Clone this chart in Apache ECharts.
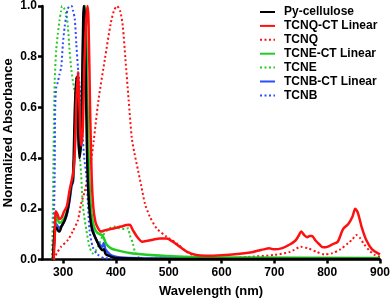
<!DOCTYPE html>
<html>
<head>
<meta charset="utf-8">
<script src="https://cdn.jsdelivr.net/npm/echarts@6/dist/echarts.min.js"></script>
<style>
html,body{margin:0;padding:0;background:#fff;}
#chart{width:392px;height:299px;}
</style>
</head>
<body>
<div id="chart"></div>
<script>
// ---- data (wavelength nm, normalized absorbance) ----
const xTicks = [300, 400, 500, 600, 700, 800, 900];
const yTicks = [0, 0.2, 0.4, 0.6, 0.8, 1.0];

const pyNm = [278, 280, 282, 284, 287, 290, 293, 297, 303, 308, 312, 315, 318, 320, 322, 325, 327, 329, 331, 334, 337, 339, 341, 343, 345, 347, 350, 355, 363, 369, 375, 377, 381, 390, 400, 450, 500, 600, 700, 800, 900];
const pyAbs = [0, 0, 0.05, 0.12, 0.125, 0.115, 0.11, 0.13, 0.155, 0.19, 0.24, 0.29, 0.31, 0.40, 0.58, 0.72, 0.62, 0.48, 0.40, 0.48, 0.80, 1.0, 0.97, 0.72, 0.45, 0.30, 0.195, 0.116, 0.077, 0.05, 0.037, 0.04, 0.02, 0.012, 0.006, 0.003, 0.002, 0.002, 0.002, 0.002, 0.002];

const tcnqCtNm = [282, 284, 286, 289, 293, 297, 302, 307, 312, 316, 319, 322, 325, 328, 331, 334, 337, 340, 343, 346, 348, 351, 354, 357, 361, 366, 372, 380, 390, 400, 410, 420, 426, 432, 440, 450, 460, 470, 483, 496, 508, 521, 534, 552, 570, 600, 630, 660, 680, 690, 700, 715, 730, 740, 745, 751, 757, 762, 767, 771, 778, 785, 792, 800, 810, 820, 830, 840, 848, 853, 858, 865, 874, 885, 900];
const tcnqCtAbs = [0, 0.08, 0.19, 0.18, 0.16, 0.165, 0.19, 0.21, 0.27, 0.31, 0.34, 0.42, 0.62, 0.74, 0.60, 0.45, 0.50, 0.75, 0.92, 1.0, 0.95, 0.6, 0.33, 0.21, 0.15, 0.124, 0.11, 0.116, 0.12, 0.125, 0.13, 0.136, 0.137, 0.116, 0.09, 0.07, 0.074, 0.078, 0.083, 0.083, 0.07, 0.05, 0.031, 0.018, 0.015, 0.017, 0.022, 0.03, 0.04, 0.044, 0.04, 0.045, 0.06, 0.075, 0.09, 0.11, 0.095, 0.088, 0.093, 0.093, 0.075, 0.06, 0.048, 0.05, 0.06, 0.07, 0.12, 0.14, 0.17, 0.2, 0.185, 0.13, 0.077, 0.04, 0.02];

const tcnqNm = [283, 285, 288, 296, 309, 318, 328, 334, 341, 347, 353, 358, 367, 379, 390, 396, 402, 408, 413, 418, 424, 430, 435, 442, 448, 455, 464, 477, 496, 515, 534, 552, 575, 600, 650, 700, 730, 750, 765, 780, 795, 810, 825, 840, 848, 855, 862, 870, 880, 890, 900];
const tcnqAbs = [0, 0.01, 0.025, 0.05, 0.077, 0.11, 0.155, 0.22, 0.27, 0.33, 0.39, 0.47, 0.63, 0.79, 0.93, 0.98, 1.0, 0.98, 0.92, 0.79, 0.63, 0.48, 0.42, 0.35, 0.29, 0.22, 0.17, 0.123, 0.09, 0.064, 0.03, 0.012, 0.005, 0.005, 0.01, 0.018, 0.03, 0.05, 0.043, 0.03, 0.02, 0.025, 0.04, 0.065, 0.08, 0.097, 0.085, 0.06, 0.035, 0.018, 0.01];

const tcneCtNm = [281, 284, 287, 293, 298, 306, 312, 316, 319, 322, 326, 329, 332, 335, 338, 341, 343, 346, 349, 352, 356, 360, 365, 369, 374, 378, 382, 390, 401, 432, 496, 559, 650, 900];
const tcneCtAbs = [0, 0.1, 0.17, 0.145, 0.15, 0.18, 0.25, 0.3, 0.32, 0.45, 0.70, 0.55, 0.42, 0.5, 0.8, 1.0, 0.95, 0.6, 0.35, 0.22, 0.15, 0.12, 0.105, 0.1, 0.095, 0.08, 0.06, 0.045, 0.037, 0.024, 0.014, 0.009, 0.008, 0.006];

const tcneNm = [279, 280.5, 282, 284, 287, 290, 293, 296, 298, 302, 306, 309, 312, 315, 318, 322, 325, 328, 331, 334, 337, 340, 344, 350, 356, 362, 368, 374, 381, 388, 397, 407, 416, 423, 426, 432, 436, 442, 450, 470, 500, 900];
const tcneAbs = [0, 0.18, 0.45, 0.70, 0.83, 0.89, 0.94, 0.98, 1.0, 0.99, 0.97, 0.92, 0.83, 0.76, 0.71, 0.66, 0.61, 0.55, 0.425, 0.34, 0.22, 0.17, 0.116, 0.05, 0.024, 0.035, 0.06, 0.09, 0.11, 0.123, 0.13, 0.123, 0.12, 0.123, 0.097, 0.064, 0.03, 0.01, 0.004, 0.002, 0.001, 0.001];

const tcnbCtNm = [281, 284, 287, 292, 298, 306, 312, 316, 319, 322, 325, 328, 331, 334, 337, 340, 342, 345, 348, 351, 355, 360, 365, 370, 374, 377, 380, 386, 394, 410, 450, 500, 900];
const tcnbCtAbs = [0, 0.1, 0.14, 0.125, 0.135, 0.17, 0.23, 0.29, 0.31, 0.45, 0.70, 0.58, 0.42, 0.45, 0.78, 1.0, 0.97, 0.6, 0.32, 0.2, 0.13, 0.09, 0.07, 0.057, 0.05, 0.065, 0.04, 0.025, 0.014, 0.008, 0.005, 0.004, 0.003];

const tcnbNm = [282, 283, 284, 285, 287, 290, 293, 296.5, 299.5, 303, 306, 309, 313, 316, 319, 322, 325, 328, 331, 334, 337, 340, 344, 347, 350, 356, 365, 380, 900];
const tcnbAbs = [0, 0.2, 0.33, 0.6, 0.68, 0.70, 0.73, 0.76, 0.85, 0.92, 0.96, 0.99, 1.0, 1.0, 0.98, 0.95, 0.85, 0.76, 0.69, 0.62, 0.49, 0.40, 0.33, 0.22, 0.116, 0.05, 0.02, 0.005, 0.002];

const seriesNames = ['Py-cellulose', 'TCNQ-CT Linear', 'TCNQ', 'TCNE-CT Linear', 'TCNE', 'TCNB-CT Linear', 'TCNB'];

// ---- build ----
const zip = (xs, ys) => xs.map((x, i) => [x, ys[i]]);
const FONT = '"Liberation Sans", Arial, Helvetica, sans-serif';
const RED = '#ff1010', GREEN = '#22cc22', BLUE = '#2a4dff';

function mk(name, xs, ys, color, dotted, z) {
  return {
    name: name, type: 'line', data: zip(xs, ys),
    symbol: 'none', smooth: 0.25, z: z,
    lineStyle: { color: color, width: dotted ? 2 : 2.5, type: dotted ? [2, 2.5] : 'solid' },
    itemStyle: { color: color },
    emphasis: { disabled: true }
  };
}

const chart = echarts.init(document.getElementById('chart'), null, { renderer: 'canvas' });
chart.setOption({
  animation: false,
  backgroundColor: '#fff',
  grid: { left: 42, right: 12, top: 6, bottom: 39.5, containLabel: false, outerBoundsMode: 'none' },
  legend: {
    orient: 'vertical', left: 254, top: 1,
    itemWidth: 15, itemHeight: 10, itemGap: 1.9,
    itemStyle: { opacity: 0 },
    textStyle: { fontFamily: FONT, fontWeight: 'bold', fontSize: 12, color: '#000', lineHeight: 12, padding: [0, 0, 0, 4] },
    data: seriesNames
  },
  xAxis: {
    type: 'value', min: 260, max: 900,
    name: 'Wavelength (nm)', nameLocation: 'middle', nameGap: 25, nameMoveOverlap: false,
    nameTextStyle: { fontFamily: FONT, fontWeight: 'bold', fontSize: 13, color: '#000' },
    axisLine: { show: true, onZero: false, lineStyle: { color: '#000', width: 2.5 } },
    axisTick: { show: true, length: 4, lineStyle: { color: '#000', width: 2.5 }, customValues: xTicks },
    axisLabel: { fontFamily: FONT, fontWeight: 'bold', fontSize: 12, color: '#000', margin: 7, customValues: xTicks },
    splitLine: { show: false }
  },
  yAxis: {
    type: 'value', min: 0, max: 1, interval: 0.2,
    name: 'Normalized Absorbance', nameLocation: 'middle', nameGap: 27, nameRotate: 90, nameMoveOverlap: false,
    nameTextStyle: { fontFamily: FONT, fontWeight: 'bold', fontSize: 13, color: '#000' },
    axisLine: { show: true, lineStyle: { color: '#000', width: 2.5 } },
    axisTick: { show: true, length: 4, lineStyle: { color: '#000', width: 2.5 } },
    axisLabel: { fontFamily: FONT, fontWeight: 'bold', fontSize: 12, color: '#000', margin: 5,
      formatter: v => v.toFixed(1) },
    splitLine: { show: false }
  },
  series: [
    mk(seriesNames[2], tcnqNm, tcnqAbs, RED, true, 2),
    mk(seriesNames[4], tcneNm, tcneAbs, GREEN, true, 2),
    mk(seriesNames[6], tcnbNm, tcnbAbs, BLUE, true, 2),
    mk(seriesNames[5], tcnbCtNm, tcnbCtAbs, BLUE, false, 3),
    mk(seriesNames[3], tcneCtNm, tcneCtAbs, GREEN, false, 3),
    mk(seriesNames[0], pyNm, pyAbs, '#000', false, 4),
    mk(seriesNames[1], tcnqCtNm, tcnqCtAbs, RED, false, 5)
  ]
});
</script>
</body>
</html>
